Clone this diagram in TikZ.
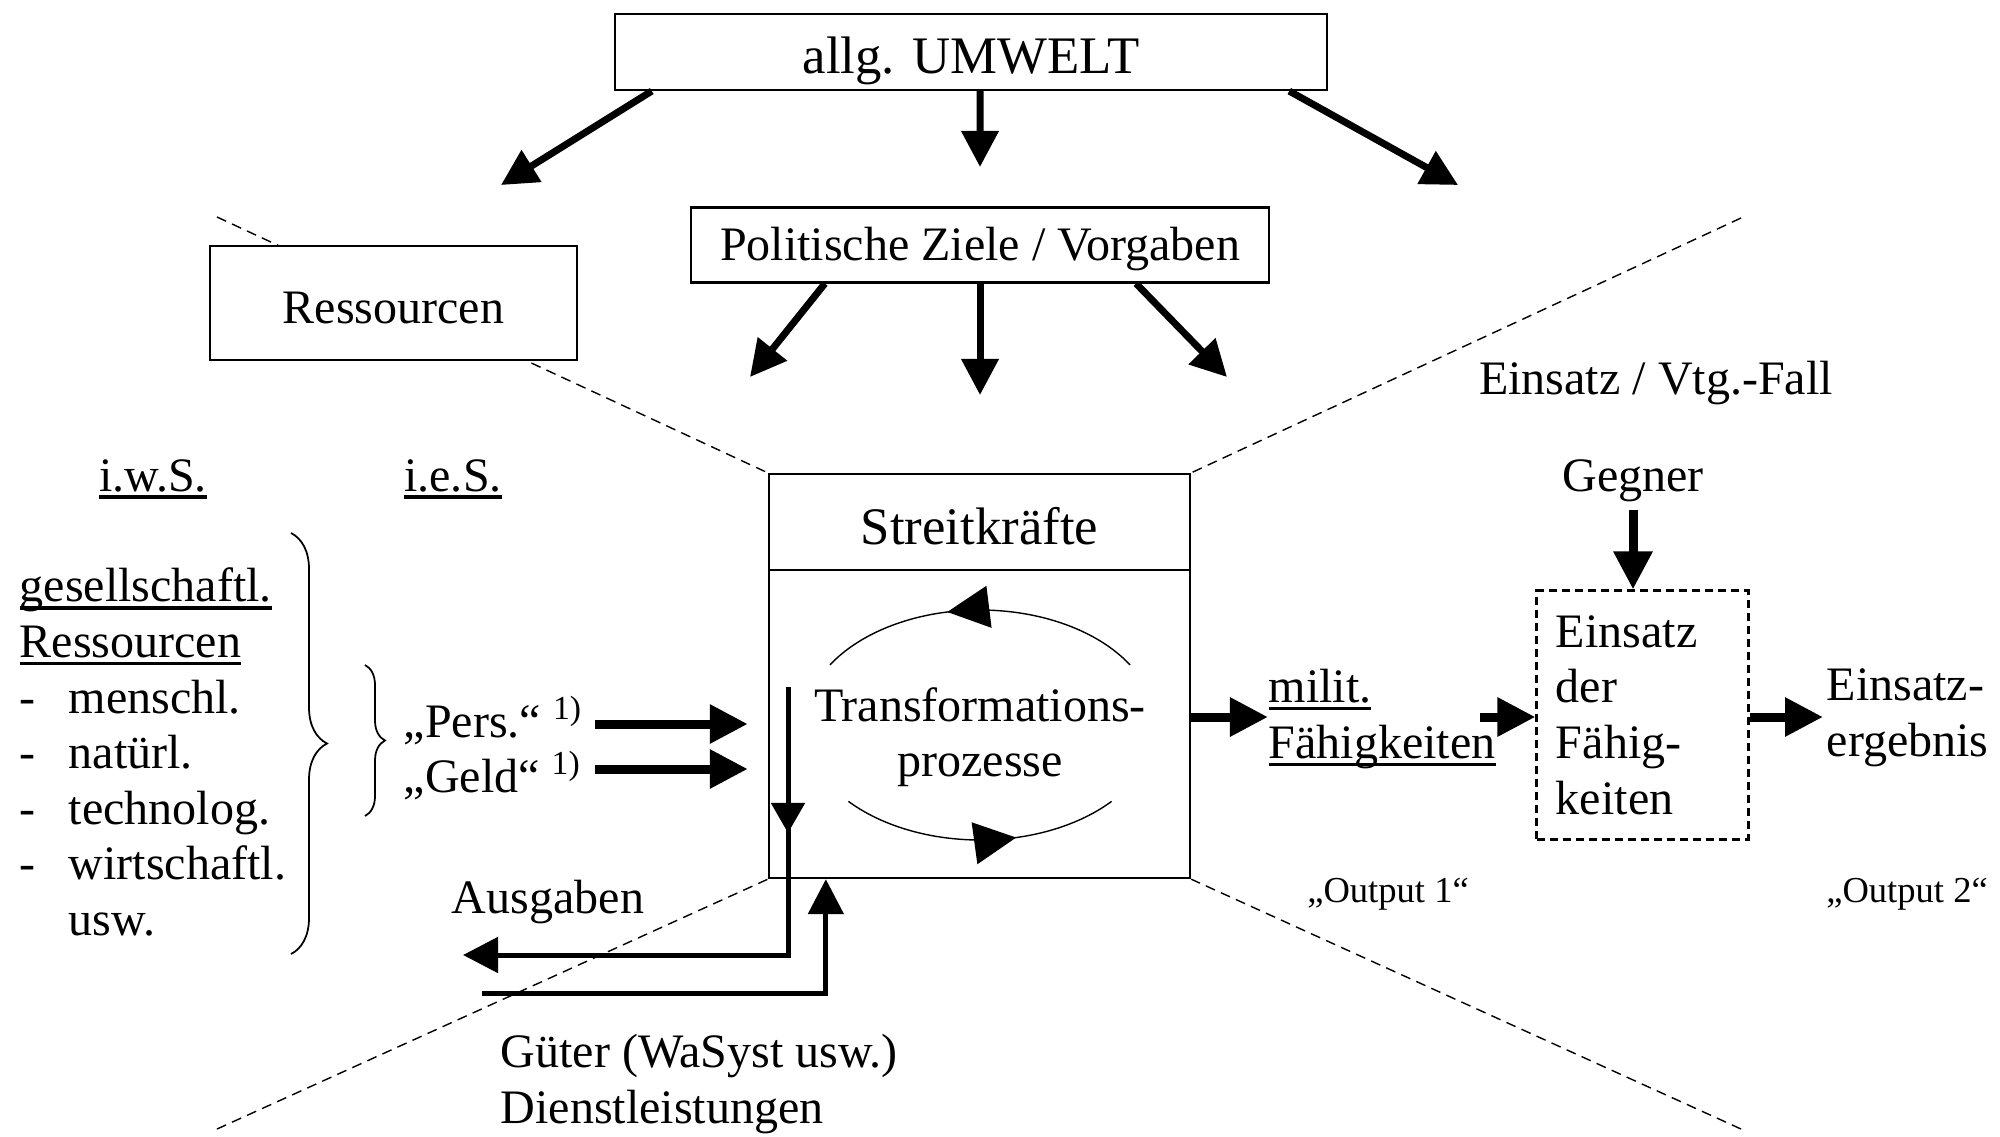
\documentclass[tikz,border=0pt]{standalone}
\usepackage{fontspec}
\setmainfont{Liberation Serif}
\usetikzlibrary{arrows.meta,decorations.markings,decorations.pathreplacing}

\newsavebox{\ustrichbox}
\newcommand{\ustrich}[1]{\sbox{\ustrichbox}{#1}\rlap{\rule[-0.16em]{\wd\ustrichbox}{0.07em}}\usebox{\ustrichbox}}
\newcommand{\strich}{\makebox[0.49cm][l]{-}}

\begin{document}
\begin{tikzpicture}[x=0.01cm, y=-0.01cm,
    every node/.style={font=\fontsize{13.66}{15.8}\selectfont},
    box/.style={draw, line width=0.6pt, fill=white, inner sep=0pt, text depth=0pt},
    grenze/.style={dash pattern=on 0.1cm off 0.065cm, line width=0.4pt},
    pfeil/.style={line width=0.07cm, -{Triangle[length=0.36cm,width=0.36cm]}},
    dickpfeil/.style={line width=0.09cm, -{Triangle[length=0.38cm,width=0.37cm]}},
    flusspfeil/.style={line width=0.05cm, -{Triangle[length=0.35cm,width=0.35cm]}},
    kreis/.style={line width=0.4pt, postaction={decorate}},
    klammer/.style={decorate, line width=0.5pt},
    gross/.style={font=\fontsize{15}{18}\selectfont},
    klein/.style={font=\fontsize{10.4}{12}\selectfont}]
\useasboundingbox (0,0) rectangle (2000,1136);

% Kaesten oben
\node[box, gross, text height=0.42cm, minimum width=7.12cm, minimum height=0.76cm] (umwelt) at (971,52) {allg. UMWELT};
\node[box, text height=0.3cm, minimum width=5.78cm, minimum height=0.75cm] (ziele) at (980,245) {Politische Ziele / Vorgaben};

% Streitkraefte
\node[box, minimum width=4.21cm, minimum height=4.04cm] (streit) at (979.5,676) {};
\node[box, gross, text height=0.46cm, minimum width=4.21cm, minimum height=0.96cm, anchor=north] (kopf) at (streit.north) {Streitkräfte};

% Grenzlinien
\coordinate (lo) at (217,217);
\coordinate (ro) at (1741,218);
\coordinate (lu) at (217,1129);
\coordinate (ru) at (1741,1129);
\draw[grenze] (lo) -- (streit.north west);
\draw[grenze] (ro) -- (streit.north east);
\draw[grenze] (lu) -- (streit.south west);
\draw[grenze] (ru) -- (streit.south east);

\node[box, text height=0.4cm, minimum width=3.67cm, minimum height=1.14cm] (ressourcen) at (393.5,303) {Ressourcen};

% Pfeile aus der Umwelt
\coordinate (u1) at (501,185);
\coordinate (u2) at (980,167);
\coordinate (u3) at (1458,185);
\draw[pfeil] ([xshift=0.38cm]umwelt.south west) -- (u1);
\draw[pfeil] ([xshift=0.09cm]umwelt.south) -- (u2);
\draw[pfeil] ([xshift=-0.39cm]umwelt.south east) -- (u3);

\coordinate (z1) at (750,377);
\coordinate (z2) at (980,395);
\coordinate (z3) at (1227,377);
\draw[pfeil] ([xshift=1.35cm]ziele.south west) -- (z1);
\draw[pfeil] (ziele.south) -- (z2);
\draw[pfeil] ([xshift=-1.34cm]ziele.south east) -- (z3);

% Transformation
\node[align=center] (trafo) at (980,737) {Transformations-\\prozesse};
\coordinate (mitte) at (980,725);
\draw[kreis, decoration={markings, mark=at position 0.6 with {\arrow{Triangle[length=0.42cm,width=0.42cm]}}}]
  ([shift={(-31.5:176 and 115)}]mitte) arc[start angle=-31.5, end angle=-148.5, x radius=176, y radius=115];
\draw[kreis, decoration={markings, mark=at position 0.63 with {\arrow{Triangle[length=0.42cm,width=0.42cm]}}}]
  ([shift={(138.4:176 and 115)}]mitte) arc[start angle=138.4, end angle=41.6, x radius=176, y radius=115];

% Ausgaben / Gueter
\coordinate (ausoben) at (788,687);
\coordinate (ausmitte) at (788,833);
\coordinate (ausende) at (463,955);
\coordinate (gueterstart) at (482,993);
\draw[flusspfeil] (ausoben) |- (ausende);
\draw[flusspfeil, -{Triangle[length=0.3cm,width=0.33cm]}] (ausoben) -- (ausmitte);
\draw[flusspfeil] (gueterstart) -| ([xshift=0.58cm]streit.south west);
\node (ausgaben) at (548,902) {Ausgaben};
\node[align=left, anchor=west, inner sep=0pt] (gueter) at (500,1084) {Güter (WaSyst usw.)\\Dienstleistungen};

% linke Seite
\node (iws) at (153,479) {\ustrich{i.w.S.}};
\node (ies) at (453,479) {\ustrich{i.e.S.}};
\node[align=left, anchor=west, inner sep=0pt] (liste) at (19,752)
  {\ustrich{gesellschaftl.}\\\ustrich{Ressourcen}\\\strich menschl.\\\strich natürl.\\\strich technolog.\\\strich wirtschaftl.\\\hspace*{0.49cm}usw.};
\coordinate (gk1) at (291,533);
\coordinate (gk2) at (291,954);
\coordinate (kk1) at (365,665);
\coordinate (kk2) at (365,816);
\draw[klammer, decoration={brace, amplitude=0.36cm}] (gk1) -- (gk2);
\draw[klammer, decoration={brace, amplitude=0.2cm}] (kk1) -- (kk2);
\node[align=left, anchor=west, inner sep=0pt] (persgeld) at (403,748) {„Pers.“ \textsuperscript{1)}\\„Geld“ \textsuperscript{1)}};
\coordinate (persein) at (595,724);
\coordinate (geldein) at (595,769);
\draw[dickpfeil, shorten >=0.2cm] (persein) -- (persein -| streit.west);
\draw[dickpfeil, shorten >=0.2cm] (geldein) -- (geldein -| streit.west);

% rechte Seite
\coordinate (reihe) at (0,717);
\node[align=left, anchor=west, inner sep=0pt] (faehig) at (1268,719) {\ustrich{milit.}\\\ustrich{Fähigkeiten}};
\node[draw, line width=0.85pt, dash pattern=on 0.08cm off 0.05cm, minimum width=2.11cm, minimum height=2.48cm,
  text width=1.73cm, align=left, inner sep=0pt] (einsatz) at (1642.5,715) {Einsatz\\der\\Fähig-\\keiten};
\node[align=left, anchor=west, inner sep=0pt] (ergebnis) at (1826,718) {Einsatz-\\ergebnis};
\node (gegner) at (1633,481) {Gegner};
\node (fall) at (1656,383) {Einsatz / Vtg.-Fall};
\node[klein] (out1) at (1388,894) {„Output 1“};
\node[klein] (out2) at (1907,894) {„Output 2“};

\draw[dickpfeil] (streit.east |- reihe) -- (faehig.west |- reihe);
\draw[dickpfeil] ([xshift=-0.16cm]faehig.east |- reihe) -- (einsatz.west |- reihe);
\draw[dickpfeil] (einsatz.east |- reihe) -- ([xshift=-0.03cm]ergebnis.west |- reihe);
\draw[dickpfeil] ([yshift=0.05cm]gegner.south) -- (gegner.south |- einsatz.north);
\end{tikzpicture}
\end{document}
